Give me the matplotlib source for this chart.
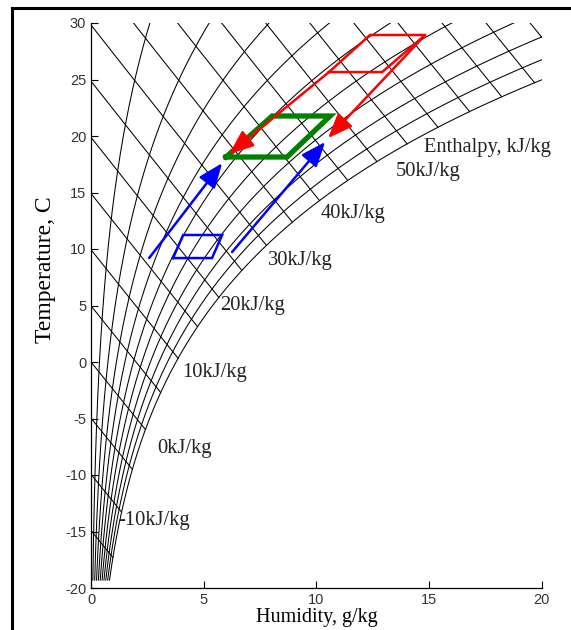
import numpy as np
import matplotlib
matplotlib.use("Agg")
import matplotlib.pyplot as plt
from matplotlib.lines import Line2D

# ---- data ----
rh_levels = [0.1, 0.2, 0.3, 0.4, 0.5, 0.6, 0.7, 0.8, 0.9, 1.0]
enthalpy_levels = [-15, -10, -5, 0, 5, 10, 15, 20, 25, 30, 35, 40, 45, 50, 55, 60, 65, 70, 75, 80]
t_min, t_max = -19.3, 36.0

label_texts = ["-10kJ/kg", "0kJ/kg", "10kJ/kg", "20kJ/kg", "30kJ/kg", "40kJ/kg", "50kJ/kg", "Enthalpy, kJ/kg"]
label_x = [1.2, 2.93, 4.04, 5.73, 7.86, 10.17, 13.54, 14.78]
label_t = [-14.0, -7.65, -0.9, 4.96, 8.94, 13.1, 16.9, 19.0]

blue_box_x = [3.64, 5.37, 5.82, 4.09, 3.64]
blue_box_t = [9.2, 9.2, 11.24, 11.24, 9.2]
green_box_x = [5.99, 8.7, 10.61, 8.04, 5.99]
green_box_t = [18.14, 18.14, 21.77, 21.77, 18.14]
red_box_x = [10.56, 12.92, 14.83, 12.38, 10.56]
red_box_t = [25.66, 25.66, 28.94, 28.94, 25.66]

blue_arrows = [((2.58, 9.2), (5.82, 17.6)), ((6.26, 9.73), (10.39, 19.47))]
red_arrows = [((10.56, 25.66), (6.13, 18.4)), ((14.83, 28.94), (10.52, 19.82))]

x_ticks = [0, 5, 10, 15, 20]
t_ticks = [-20, -15, -10, -5, 0, 5, 10, 15, 20, 25, 30]

# ---- psychrometrics ----
P = 101.325
def psat(T):
    return 0.61094 * np.exp(17.625 * T / (T + 243.04))
def xsat(T, phi):
    ps = phi * psat(T)
    return 622.0 * ps / (P - ps)
def enth(x, T):
    return 1.006 * T + x / 1000.0 * (2501 + 1.86 * T)

fig = plt.figure(figsize=(5.71, 6.30), dpi=100)
ax = fig.add_axes([91/571, 1 - 588/630, (541.7 - 91)/571, (588 - 23)/630])

Tgrid = np.linspace(t_min, t_max, 600)
for phi in rh_levels:
    ax.plot(xsat(Tgrid, phi), Tgrid, color="black", lw=0.75)

Tfine = np.linspace(t_min, t_max, 20000)
hsat = enth(xsat(Tfine, 1.0), Tfine)
for h in enthalpy_levels:
    Ts = np.interp(h, hsat, Tfine)
    xe = xsat(Ts, 1.0)
    xs = np.linspace(0, xe, 200)
    Tl = (h - 2.501 * xs) / (1.006 + 0.00186 * xs)
    ax.plot(xs, Tl, color="black", lw=0.75)

ax.plot(blue_box_x, blue_box_t, color="blue", lw=1.8, solid_joinstyle="miter")
ax.plot(green_box_x, green_box_t, color="green", lw=3.8, solid_joinstyle="miter")
ax.plot(red_box_x, red_box_t, color="red", lw=1.8, solid_joinstyle="miter")

for (s, e) in blue_arrows:
    ax.annotate("", xy=e, xytext=s,
                arrowprops=dict(arrowstyle="-|>,head_length=1.0,head_width=0.4", color="blue",
                                lw=1.8, mutation_scale=15, shrinkA=0, shrinkB=0))
for (s, e) in red_arrows:
    ax.annotate("", xy=e, xytext=s,
                arrowprops=dict(arrowstyle="-|>,head_length=1.0,head_width=0.4", color="red",
                                lw=1.8, mutation_scale=15, shrinkA=0, shrinkB=0))

for txt, lx, lt in zip(label_texts, label_x, label_t):
    ax.text(lx, lt, txt, family="Liberation Serif", fontsize=14.8, ha="left", va="center",
            color="#222222")

ax.set_xlim(0, 20)
ax.set_ylim(-20, 30)
ax.set_xticks(x_ticks)
ax.set_yticks(t_ticks)
ax.set_xticklabels([str(v) for v in x_ticks], family="Liberation Sans", fontsize=10.5, color="#333333")
ax.set_yticklabels([str(v) for v in t_ticks], family="Liberation Sans", fontsize=10.5, color="#333333")
ax.tick_params(direction="in", length=5, width=0.8)
for sp in ["top", "right"]:
    ax.spines[sp].set_visible(False)
ax.spines["left"].set_linewidth(0.9)
ax.spines["bottom"].set_linewidth(0.9)
ax.set_xlabel("Humidity, g/kg", family="Liberation Serif", fontsize=14.5, labelpad=1)
ax.set_ylabel("Temperature, C", family="Liberation Serif", fontsize=17)
ax.yaxis.set_label_coords(-0.078, 0.563)

# outer frame lines
fig.add_artist(Line2D([12/571, 12/571], [0, 1 - 8/630], color="black", lw=2.2,
                      transform=fig.transFigure, solid_capstyle="projecting"))
fig.add_artist(Line2D([12/571, 1], [1 - 8/630, 1 - 8/630], color="black", lw=2.2,
                      transform=fig.transFigure, solid_capstyle="projecting"))

fig.savefig("out.png", dpi=100)
